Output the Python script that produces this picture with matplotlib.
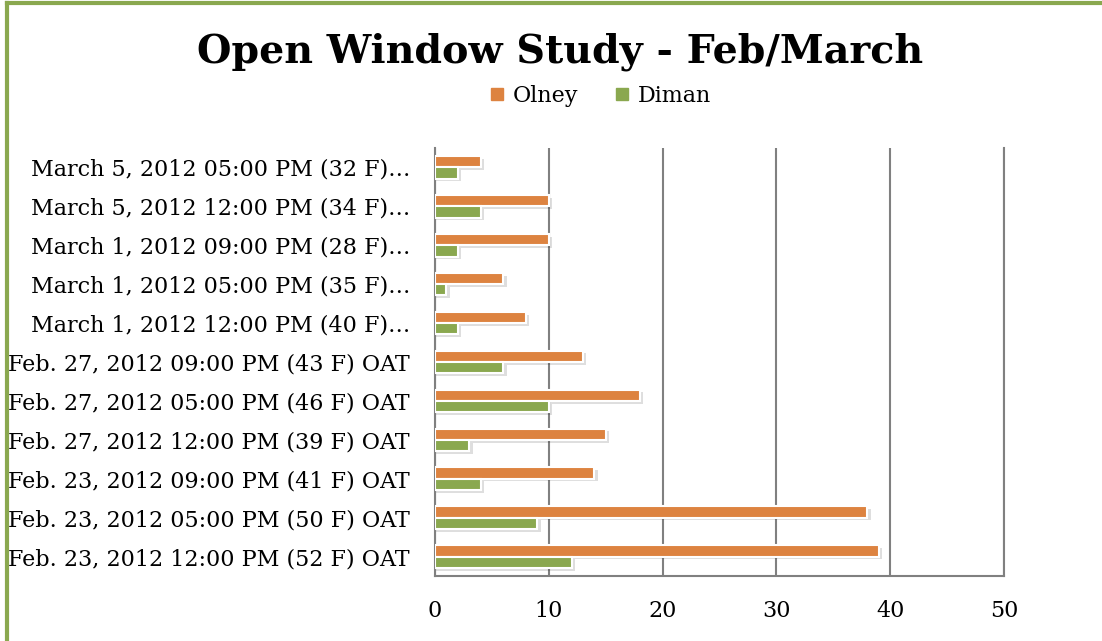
import numpy as np
import matplotlib.pyplot as plt
from matplotlib.lines import Line2D

labels = [
    "Feb. 23, 2012 12:00 PM (52 F) OAT",
    "Feb. 23, 2012 05:00 PM (50 F) OAT",
    "Feb. 23, 2012 09:00 PM (41 F) OAT",
    "Feb. 27, 2012 12:00 PM (39 F) OAT",
    "Feb. 27, 2012 05:00 PM (46 F) OAT",
    "Feb. 27, 2012 09:00 PM (43 F) OAT",
    "March 1, 2012 12:00 PM (40 F)\u2026",
    "March 1, 2012 05:00 PM (35 F)\u2026",
    "March 1, 2012 09:00 PM (28 F)\u2026",
    "March 5, 2012 12:00 PM (34 F)\u2026",
    "March 5, 2012 05:00 PM (32 F)\u2026",
]
olney = [39, 38, 14, 15, 18, 13, 8, 6, 10, 10, 4]
diman = [12, 9, 4, 3, 10, 6, 2, 1, 2, 4, 2]
xticks = [0, 10, 20, 30, 40, 50]

orange = "#dd8340"
green = "#8aa84f"

plt.rcParams['font.family'] = ['DejaVu Serif']

fig = plt.figure(figsize=(11.02, 6.41), dpi=100)
ax = fig.add_axes([435/1102, 1-576/641, (1004-435)/1102, (576-148)/641])

y = np.arange(len(labels))
h = 0.29
# shadows
ax.barh(y + h/2 - 0.07, np.array(olney) + 0.3, height=h, color="#000000", alpha=0.13, zorder=2)
ax.barh(y - h/2 - 0.07, np.array(diman) + 0.3, height=h, color="#000000", alpha=0.13, zorder=2)
ax.barh(y + h/2, olney, height=h, color=orange, edgecolor="white", linewidth=1.5, zorder=3)
ax.barh(y - h/2, diman, height=h, color=green, edgecolor="white", linewidth=1.5, zorder=3)

ax.set_xlim(0, 50)
ax.set_ylim(-0.5, len(labels) - 0.5)
ax.set_xticks(xticks)
ax.set_xticklabels([str(t) for t in xticks], fontsize=16)
ax.set_yticks(y)
ax.set_yticklabels(labels, fontsize=16)
ax.tick_params(axis='x', length=0, pad=17)
ax.tick_params(axis='y', length=0, pad=18)
ax.xaxis.grid(True, color="#808080", linewidth=1.5, zorder=0)
ax.set_axisbelow(True)
for s in ["top", "right"]:
    ax.spines[s].set_visible(False)
for s in ["left", "bottom"]:
    ax.spines[s].set_color("#808080")
    ax.spines[s].set_linewidth(1.5)
# last gridline sits on the edge, draw it unclipped
ax.axvline(xticks[-1], color="#808080", linewidth=1.5, clip_on=False, zorder=0)

fig.text(560/1102, 1-52/641, "Open Window Study - Feb/March", ha="center", va="center",
         fontsize=28.5, fontweight="bold")
handles = [Line2D([], [], marker="s", linestyle="", color=orange, markersize=8),
           Line2D([], [], marker="s", linestyle="", color=green, markersize=8)]
fig.legend(handles, ["Olney", "Diman"], loc="center", bbox_to_anchor=(593/1102, 1-96/641),
           ncol=2, frameon=False, fontsize=16, handletextpad=-0.3, columnspacing=1.0,
           borderpad=0)

# chart border
fig.add_artist(Line2D([7/1102, 7/1102], [0, 1-3/641], color=green, linewidth=3))
fig.add_artist(Line2D([7/1102, 1], [1-3/641, 1-3/641], color=green, linewidth=3))

fig.savefig("out.png", dpi=100)
